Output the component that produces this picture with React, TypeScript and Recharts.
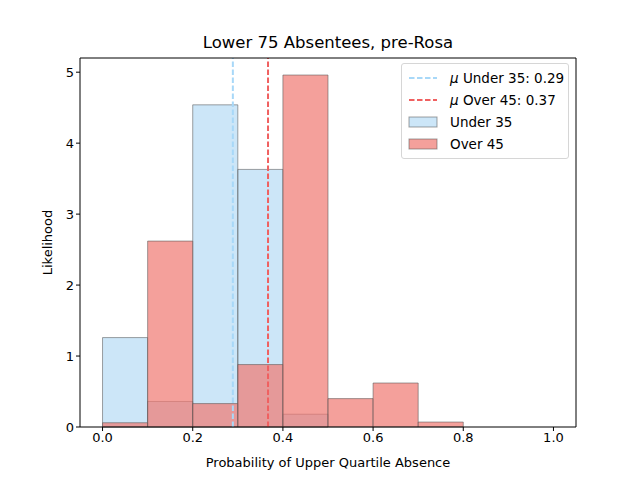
import React from 'react';
import {
  ComposedChart,
  XAxis,
  YAxis,
  ReferenceArea,
  ReferenceLine,
} from 'recharts';

const BIN_EDGES = [0, 0.1, 0.2, 0.3, 0.4, 0.5, 0.6, 0.7, 0.8, 0.9, 1.0];
const UNDER_35 = [1.26, 0.36, 4.54, 3.63, 0.18, 0, 0, 0, 0, 0];
const OVER_45 = [0.06, 2.62, 0.33, 0.88, 4.96, 0.4, 0.62, 0.07, 0, 0];
const MEAN_UNDER_35 = 0.289;
const MEAN_OVER_45 = 0.367;
const X_TICKS = [0, 0.2, 0.4, 0.6, 0.8, 1.0];
const Y_TICKS = [0, 1, 2, 3, 4, 5];
const X_DOMAIN = [-0.05, 1.05];
const Y_DOMAIN = [0, 5.2];

const BLUE = '#80C0EE';
const RED = '#F07870';
const MEAN_BLUE = '#A8D8F8';
const MEAN_RED = '#F06060';
const EDGE = '#555';
const FONT = 'DejaVu Sans, sans-serif';

const bins = BIN_EDGES.slice(0, -1).map((start, i) => ({
  x0: start,
  x1: BIN_EDGES[i + 1],
  under: UNDER_35[i],
  over: OVER_45[i],
}));

const LegendBox = () => (
  <div
    style={{
      position: 'absolute',
      left: 401,
      top: 63,
      width: 166,
      height: 94,
      border: '1px solid #d6d6d6',
      borderRadius: 3,
      background: 'rgba(255,255,255,0.8)',
      fontFamily: FONT,
      fontSize: 13.5,
      color: '#000',
    }}
  >
    {[
      { kind: 'line', color: MEAN_BLUE, label: 'Under 35: 0.29', mu: true },
      { kind: 'line', color: MEAN_RED, label: 'Over 45: 0.37', mu: true },
      { kind: 'box', color: BLUE, label: 'Under 35', op: 0.4 },
      { kind: 'box', color: RED, label: 'Over 45', op: 0.7 },
    ].map((e, i) => (
      <div
        key={i}
        style={{ position: 'absolute', left: 0, top: 4 + i * 22, height: 20, display: 'flex', alignItems: 'center' }}
      >
        <svg width={48} height={20} style={{ display: 'block' }}>
          {e.kind === 'line' ? (
            <line x1={7} x2={35} y1={10} y2={10} stroke={e.color} strokeWidth={2} strokeDasharray="5.5 2.5" />
          ) : (
            <rect x={7} y={5} width={28} height={10} fill={e.color} fillOpacity={e.op} stroke={EDGE} strokeOpacity={0.55} />
          )}
        </svg>
        <span style={{ whiteSpace: 'nowrap' }}>
          {e.mu && <i>μ</i>}
          {e.mu ? ' ' : ''}
          {e.label}
        </span>
      </div>
    ))}
  </div>
);

export default function App() {
  return (
    <div style={{ position: 'absolute', left: 0, top: 0, width: 640, height: 480, background: '#fff', fontFamily: FONT }}>
      <div
        style={{
          position: 'absolute',
          left: 80,
          width: 496,
          top: 33,
          textAlign: 'center',
          fontSize: 16.5,
          color: '#000',
        }}
      >
        Lower 75 Absentees, pre-Rosa
      </div>
      <ComposedChart
        width={640}
        height={480}
        data={bins}
        margin={{ top: 58, right: 64, bottom: 23, left: 40 }}
        style={{ position: 'absolute', left: 0, top: 0 }}
      >
        <XAxis
          dataKey="x0"
          type="number"
          domain={X_DOMAIN}
          allowDataOverflow
          ticks={X_TICKS}
          tickFormatter={(v: number) => v.toFixed(1)}
          tick={{ fill: '#000', fontSize: 13, fontFamily: FONT }}
          tickSize={4}
          stroke="#000"
          height={30}
          label={{ value: 'Probability of Upper Quartile Absence', position: 'insideBottom', offset: -10, fill: '#000', fontSize: 13, fontFamily: FONT }}
        />
        <YAxis
          type="number"
          domain={Y_DOMAIN}
          allowDataOverflow
          ticks={Y_TICKS}
          tick={{ fill: '#000', fontSize: 13, fontFamily: FONT }}
          tickSize={4}
          stroke="#000"
          width={40}
          label={{ value: 'Likelihood', angle: -90, position: 'insideLeft', offset: 7, fill: '#000', fontSize: 13, fontFamily: FONT, style: { textAnchor: 'middle' } }}
        />
        {bins.map((b, i) =>
          b.under > 0 ? (
            <ReferenceArea
              key={`u${i}`}
              x1={b.x0}
              x2={b.x1}
              y1={0}
              y2={b.under}
              fill={BLUE}
              fillOpacity={0.4}
              stroke={EDGE}
              strokeOpacity={0.55}
              ifOverflow="visible"
            />
          ) : null,
        )}
        {bins.map((b, i) =>
          b.over > 0 ? (
            <ReferenceArea
              key={`o${i}`}
              x1={b.x0}
              x2={b.x1}
              y1={0}
              y2={b.over}
              fill={RED}
              fillOpacity={0.7}
              stroke={EDGE}
              strokeOpacity={0.55}
              ifOverflow="visible"
            />
          ) : null,
        )}
        <ReferenceLine x={MEAN_UNDER_35} stroke={MEAN_BLUE} strokeWidth={2} strokeDasharray="5.5 2.5" />
        <ReferenceLine x={MEAN_OVER_45} stroke={MEAN_RED} strokeWidth={2} strokeDasharray="5.5 2.5" />
        <ReferenceLine y={Y_DOMAIN[1]} stroke="#000" strokeWidth={1} ifOverflow="visible" />
        <ReferenceLine x={X_DOMAIN[1]} stroke="#000" strokeWidth={1} ifOverflow="visible" />
      </ComposedChart>
      <LegendBox />
    </div>
  );
}
